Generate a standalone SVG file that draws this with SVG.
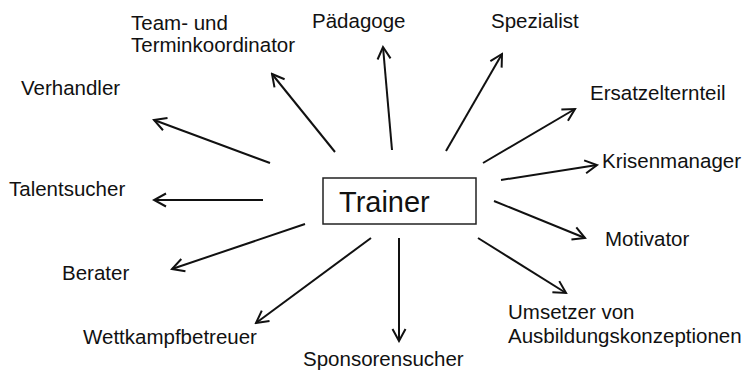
<svg xmlns="http://www.w3.org/2000/svg" width="751" height="372" viewBox="0 0 751 372">
<style>
.t{font-family:"Liberation Sans",Arial,sans-serif;font-size:20.5px;fill:#111}
.big{font-size:29px}
.c line{stroke:#111;stroke-width:2;marker-end:url(#ah)}
</style>
<defs>
<marker id="ah" markerUnits="userSpaceOnUse" markerWidth="16" markerHeight="16" viewBox="0 0 16 16" refX="14" refY="8" orient="auto">
<path d="M2,1.5 L14,8 L2,14.5" fill="none" stroke="#111" stroke-width="2"/>
</marker>
</defs>
<rect width="751" height="372" fill="#fff"/>
<g id="trainer">
<rect x="323" y="178" width="153" height="46" fill="none" stroke="#222" stroke-width="1.5"/>
<text class="t big" x="339" y="212">Trainer</text>
</g>
<g id="team"><text class="t" x="131" y="30">Team- und</text><text class="t" x="131" y="52">Terminkoordinator</text></g>
<g id="paedagoge"><text class="t" x="312" y="28">Pädagoge</text></g>
<g id="spezialist"><text class="t" x="491" y="28">Spezialist</text></g>
<g id="verhandler"><text class="t" x="21" y="95">Verhandler</text></g>
<g id="ersatz"><text class="t" x="590" y="100">Ersatzelternteil</text></g>
<g id="krisen"><text class="t" x="602" y="168">Krisenmanager</text></g>
<g id="talent"><text class="t" x="9" y="196">Talentsucher</text></g>
<g id="motivator"><text class="t" x="605" y="246">Motivator</text></g>
<g id="berater"><text class="t" x="62" y="280">Berater</text></g>
<g id="umsetzer"><text class="t" x="508" y="319">Umsetzer von</text><text class="t" x="508" y="343">Ausbildungskonzeptionen</text></g>
<g id="wettkampf"><text class="t" x="83" y="344">Wettkampfbetreuer</text></g>
<g id="sponsoren"><text class="t" x="303" y="366">Sponsorensucher</text></g>
<g class="c" id="connectors">
<line x1="335" y1="152" x2="272" y2="74"/>
<line x1="270" y1="163" x2="154" y2="120"/>
<line x1="392" y1="150" x2="383" y2="47"/>
<line x1="446" y1="151" x2="502" y2="54"/>
<line x1="483" y1="163" x2="575" y2="109"/>
<line x1="501" y1="180" x2="597" y2="165"/>
<line x1="263" y1="200" x2="154" y2="200"/>
<line x1="494" y1="201" x2="585" y2="238"/>
<line x1="305" y1="224" x2="172" y2="269"/>
<line x1="371" y1="238" x2="256" y2="323"/>
<line x1="399" y1="238" x2="399" y2="341"/>
<line x1="478" y1="238" x2="566" y2="293"/>
</g>
</svg>
